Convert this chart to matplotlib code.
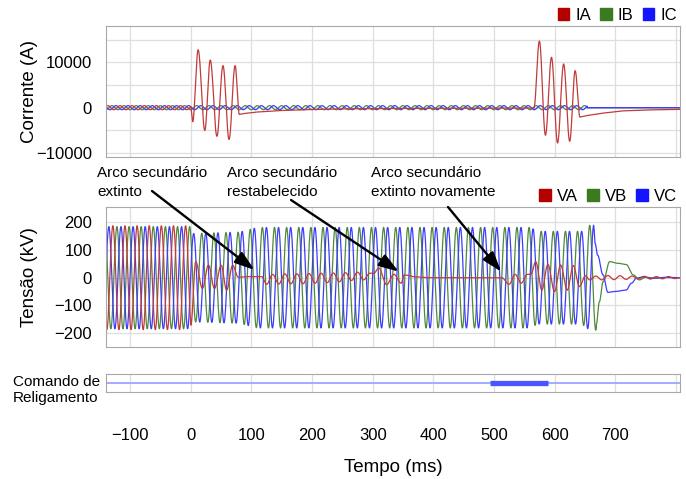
import numpy as np
import matplotlib
matplotlib.use("Agg")
import matplotlib.pyplot as plt
from matplotlib.patches import Patch

plt.rcParams['font.family'] = ['Liberation Sans', 'DejaVu Sans']

# ---------------------------------------------------------------
# Dados (tempo em ms, corrente em A, tensao em kV), sistema 50 Hz
# ---------------------------------------------------------------
F_HZ = 50.
T_START, T_END = -140., 807.

# fases das tensoes (rad)
PH_VB = 2.2
PH_VA = PH_VB + 2*np.pi/3
PH_VC = PH_VB - 2*np.pi/3

# envoltoria das tensoes das fases sas (B e C)
vbc_env_t = [-140, 0, 3, 80, 110, 560, 572, 645, 658, 670]
vbc_env_a = [185, 185, 160, 165, 182, 182, 168, 168, 190, 190]

# VA antes do defeito
va_pre_amp = 188

# VA apos o defeito: extremos lidos (ms, kV)
va_ext_t = [0, 8, 19, 29, 39, 50, 59, 69, 78,
            95, 117,
            125, 135, 145, 155, 165, 175, 185, 195, 205, 215, 225, 235,
            245, 255, 265, 275, 285, 295, 302,
            310, 323, 335, 347, 352, 370, 392,
            513, 525, 535, 545, 555, 561,
            569, 579, 589, 600, 610, 621, 631, 641, 651, 658,
            668, 678, 688, 698, 708, 718, 728, 738, 748, 758, 768, 778, 788, 798, 807]
va_ext_v = [-172, 58, -39, 46, -39, 45, -45, 45, 2,
            4, 4,
            -24, 12, -23, 14, -22, 14, -22, 15, -20, 16, -18, 17,
            -15, 18, -10, 20, -8, 16, 16,
            35, -25, 12, -20, 10, 3, 0,
            0, -24, 12, -20, 12, 12,
            58, -45, 48, -50, 46, -45, 44, -32, 7, -8,
            6, -8, 8, -7, 7, -6, 6, -5, 5, -5, 4, -4, 4, -3, 0]

# VB e VC apos a abertura tripolar (ms, kV)
vb_post_t = [669, 674, 680, 691, 705, 718, 730, 740, 750, 765, 785, 807]
vb_post_v = [-168, -87, -15, 58, 52, 48, 10, -8, 2, -2, 1, 0]
vc_post_t = [664.7, 667, 671, 680, 688, 700, 718, 727, 735, 745, 760, 780, 807]
vc_post_v = [185, 124, 82, 10, -53, -50, -45, -20, -2, 3, -2, 1, 0]

# correntes das fases sas
i_small_amp = 450
i_small_end = 654
PH_IA = 0.6

# IA: surtos de corrente de defeito (extremos lidos)
ia_b1_t = [0, 3, 12, 23, 32, 43, 53, 63, 73, 80]
ia_b1_v = [0, -3100, 12740, -5000, 10500, -6300, 9260, -7000, 9260, -1480]
ia_t1_t = [80, 90, 110, 150, 200, 260, 350, 450, 566]
ia_t1_v = [-1480, -1250, -950, -620, -400, -250, -160, -120, -100]
ia_b2_t = [566, 575, 585, 595, 605, 615, 625, 634, 642]
ia_b2_v = [-100, 14670, -6070, 11100, -7780, 9630, -7400, 8150, -2070]
ia_t2_t = [642, 655, 680, 713, 760, 807]
ia_t2_v = [-2070, -1700, -1200, -700, -480, -370]

# comando de religamento
cmd_on = [494, 589]

xticks = list(range(-100, 801, 100))
xtick_labels = [str(v).replace('-', '\u2212') for v in xticks[:-1]] + ['']

RED, GREEN, BLUE = '#b40000', '#3b7a1e', '#1414ff'
RED_L, GREEN_L, BLUE_L = '#c23a3a', '#4f8a3c', '#3c3cff'


def wave(t0, t1, amp, phase, step=0.1):
    t = np.arange(t0, t1 + step/2, step)
    a = np.interp(t, *amp) if isinstance(amp, tuple) else amp
    return t, a*np.sin(2*np.pi*F_HZ*t/1000. + phase)


def through(tk, vk, step=0.1):
    # meio-cosseno entre extremos consecutivos
    tt, vv = [], []
    for k in range(len(tk) - 1):
        n = max(int((tk[k+1] - tk[k])/step), 2)
        s = np.linspace(0, 1, n, endpoint=False)
        tt.append(tk[k] + s*(tk[k+1] - tk[k]))
        vv.append(vk[k] + (vk[k+1] - vk[k])*(1 - np.cos(np.pi*s))/2)
    tt.append([tk[-1]])
    vv.append([vk[-1]])
    return np.concatenate(tt), np.concatenate(vv)


def join(*parts):
    return np.concatenate([p[0] for p in parts]), np.concatenate([p[1] for p in parts])


env = (vbc_env_t, vbc_env_a)
va = join(wave(T_START, -0.1, va_pre_amp, PH_VA), through(va_ext_t, va_ext_v))
vb = join(wave(T_START, 669, env, PH_VB), through(vb_post_t, vb_post_v))
vc = join(wave(T_START, 664.6, env, PH_VC), through(vc_post_t, vc_post_v))

ia = join(wave(T_START, -0.1, i_small_amp, PH_IA), through(ia_b1_t, ia_b1_v),
          (np.array(ia_t1_t), np.array(ia_t1_v)), through(ia_b2_t, ia_b2_v),
          (np.array(ia_t2_t), np.array(ia_t2_v)))
ib = join(wave(T_START, i_small_end, i_small_amp, PH_IA - 2*np.pi/3),
          (np.array([i_small_end, T_END]), np.array([0., 0.])))
ic = join(wave(T_START, i_small_end, i_small_amp, PH_IA + 2*np.pi/3),
          (np.array([i_small_end, T_END]), np.array([0., 0.])))

# ---------------------------------------------------------------
# Figura
# ---------------------------------------------------------------
FW, FH = 686., 479.
fig = plt.figure(figsize=(FW/100, FH/100), dpi=100)


def box(top, bot, left=106., right=680.):
    return [left/FW, 1 - bot/FH, (right - left)/FW, (bot - top)/FH]


ax1 = fig.add_axes(box(26, 156.7))
ax2 = fig.add_axes(box(207.3, 346.7), sharex=ax1)
ax3 = fig.add_axes(box(374, 392), sharex=ax1)

for ax in (ax1, ax2, ax3):
    for sp in ax.spines.values():
        sp.set_color('#a8a8a8')
    ax.tick_params(length=0, labelsize=12, which='both')
    ax.tick_params(axis='y', pad=10)
    ax.grid(True, which='both', color='#dedede', lw=0.9)
    ax.set_axisbelow(True)

ax1.set_xlim(T_START, T_END)
ax3.set_xticks(xticks, labels=xtick_labels)
ax1.tick_params(labelbottom=False)
ax2.tick_params(labelbottom=False)
ax3.tick_params(axis='x', pad=26)
ax3.set_yticks([])

# correntes
ax1.plot(*ib, color=GREEN_L, lw=0.9)
ax1.plot(*ic, color=BLUE_L, lw=0.9)
ax1.plot(*ia, color=RED_L, lw=0.9)
ax1.set_ylim(-10800, 18000)
ax1.set_yticks([-10000, 0, 10000])
ax1.set_yticks([-5000, 5000, 15000], minor=True)
ax1.set_ylabel('Corrente (A)', fontsize=13.5)
ax1.yaxis.set_label_coords(-0.118, 0.5)

# tensoes
ax2.plot(*vb, color=GREEN_L, lw=0.9)
ax2.plot(*vc, color=BLUE_L, lw=0.9)
ax2.plot(*va, color=RED_L, lw=0.9)
ax2.set_ylim(-250, 255)
ax2.set_yticks([-200, -100, 0, 100, 200])
ax2.set_ylabel('Tensão (kV)', fontsize=13.5)
ax2.yaxis.set_label_coords(-0.118, 0.5)

# comando
ax3.plot([T_START, T_END], [0, 0], color='#a4aaff', lw=1.4)
ax3.plot(cmd_on, [0, 0], color='#4a55ff', lw=3.8, solid_capstyle='butt')
ax3.set_ylim(-1, 1)

for ax, names in ((ax1, ['IA', 'IB', 'IC']), (ax2, ['VA', 'VB', 'VC'])):
    ax.legend(handles=[Patch(color=c, label=n) for c, n in zip((RED, GREEN, BLUE), names)],
              ncol=3, loc='lower right', bbox_to_anchor=(1.0, 1.0), frameon=False,
              fontsize=12, handlelength=0.7, handleheight=0.75, handletextpad=0.35,
              columnspacing=0.55, borderaxespad=0.1, borderpad=0.1)

fig.text(13/FW, 1 - 375/FH, 'Comando de\nReligamento', fontsize=11, ha='left', va='top')
fig.text(393/FW, 1 - 467/FH, 'Tempo (ms)', fontsize=13.5, ha='center', va='center')

# anotacoes do arco secundario
notes = [('Arco secundário\nextinto', 97, (152, 191), (105, 28)),
         ('Arco secundário\nrestabelecido', 227, (291, 200), (343, 22)),
         ('Arco secundário\nextinto novamente', 371, (448, 207), (512, 22))]
for txt, xp, start, tip in notes:
    fig.text(xp/FW, 1 - 166/FH, txt, fontsize=11, ha='left', va='top', linespacing=1.45)
    ax2.annotate('', xy=tip, xycoords='data',
                 xytext=(start[0]/FW, 1 - start[1]/FH), textcoords='figure fraction',
                 arrowprops=dict(arrowstyle='-|>,head_length=1.2,head_width=0.4',
                                 mutation_scale=10, lw=1.7, color='black',
                                 shrinkA=0, shrinkB=0))

fig.savefig('out.png', dpi=100)
